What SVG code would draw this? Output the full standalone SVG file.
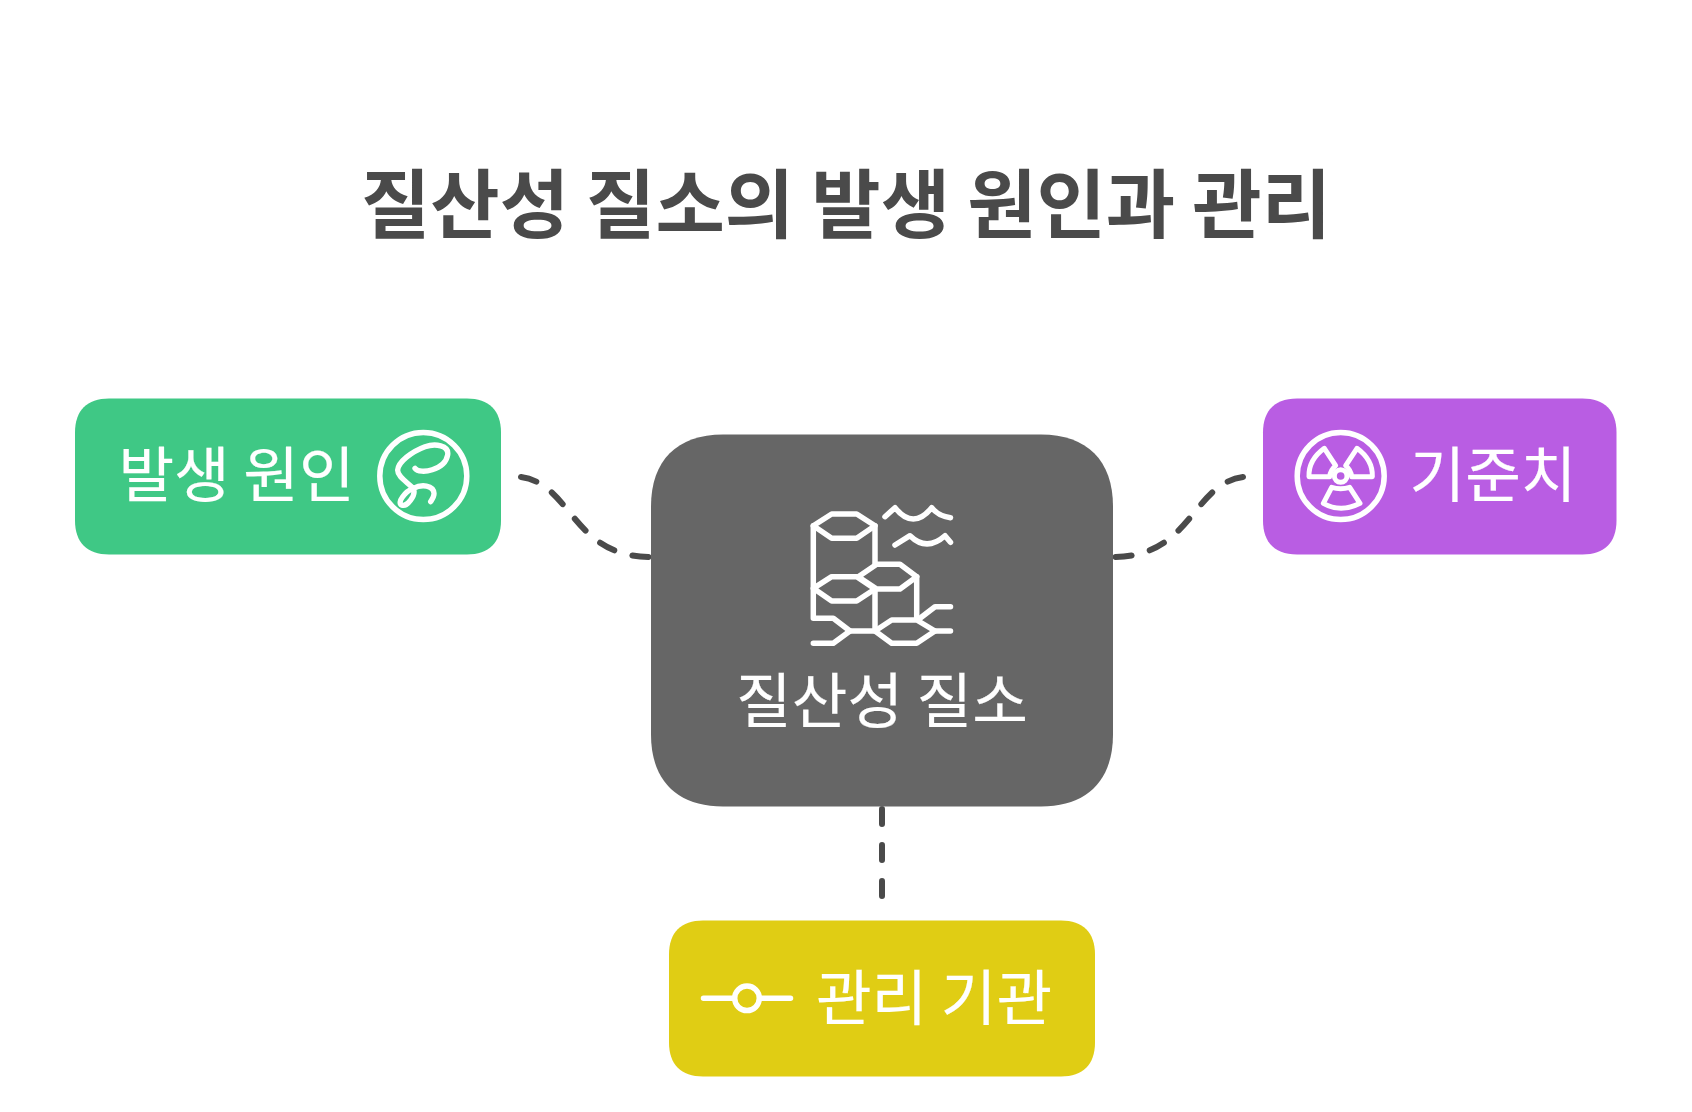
<svg xmlns="http://www.w3.org/2000/svg" width="1692" height="1112" viewBox="0 0 1692 1112">
<style>
text{font-family:"Noto Sans CJK KR","Noto Sans",sans-serif;text-anchor:middle}
.t{font-size:60.500px;fill:#fff;font-weight:400;stroke:#fff;stroke-width:.2px}
.i{fill:none;stroke:#fff;stroke-width:5.500;stroke-linecap:round;stroke-linejoin:round}
.c{fill:none;stroke:#4a4a4a;stroke-width:6;stroke-linecap:round;stroke-dasharray:16 19}
</style>
<rect width="1692" height="1112" fill="#fff"/>
<text id="title" x="846" y="232" fill="#4a4a4a" style="font-size:75.400px;font-weight:700">질산성 질소의 발생 원인과 관리</text>
<g id="connectors">
<path class="c" d="M521 477C572 484 572 557 651 557"/>
<path class="c" d="M1243 477C1192 484 1192 557 1113 557"/>
<path class="c" d="M882 809V900" style="stroke-dasharray:15 21"/>
</g>
<g id="node-center">
<path d="M723 434.500H1041C1087 434.500 1113 460.500 1113 506.500V734.500C1113 780.500 1087 806.500 1041 806.500H723C677 806.500 651 780.500 651 734.500V506.500C651 460.500 677 434.500 723 434.500Z" fill="#666"/>
<g class="i">
<path d="M813.300 525.700L831.700 514H856.700L875 525.700L856.700 538.300H831.700Z"/>
<path d="M813.300 525.700V618.300H833.300L850 631L833.300 643.300H813.300"/>
<path d="M875 525.700V564"/>
<path d="M858.300 576.700L876.700 564.300H900L916.700 576.700L900 589H876.700Z"/>
<path d="M813.300 588.300L831.700 576.700H856.700L875 589L856.700 601H831.700Z"/>
<path d="M875 589V631H850"/>
<path d="M916.700 576.700V618"/>
<path d="M875 631L891.700 620H916.700L935 631L916.700 643.300H891.700Z"/>
<path d="M935 631H950.500M920 618.300L935 606.700H950.500"/>
<path d="M885 516.700L895 507.700Q913.300 530.300 931.700 507.700Q938 516 950.500 517.700"/>
<path d="M895 545L910 535.700Q926.700 552 945 535.700L950.500 542.300"/>
</g>
<text class="t" x="882" y="722.500">질산성 질소</text>
</g>
<g id="node-cause">
<path d="M109 398.500H467C489 398.500 501 410.500 501 432.500V520.500C501 542.500 489 554.500 467 554.500H109C87 554.500 75 542.500 75 520.500V432.500C75 410.500 87 398.500 109 398.500Z" fill="#3fc885"/>
<text class="t" x="236.500" y="496.500">발생 원인</text>
<circle class="i" cx="423.300" cy="476" r="43.500"/>
<path class="i" transform="translate(370 420) scale(.3333)" style="stroke-width:16" d="M135 145C150 165 225 150 233 105C238 75 195 70 165 80C125 95 85 125 83 150C82 170 110 185 130 205C140 225 110 262 95 255C80 248 105 215 130 205C155 192 190 195 192 220C193 230 185 240 182 245"/>
</g>
<g id="node-standard">
<path d="M1297 398.500H1582.500C1604.500 398.500 1616.500 410.500 1616.500 432.500V520.500C1616.500 542.500 1604.500 554.500 1582.500 554.500H1297C1275 554.500 1263 542.500 1263 520.500V432.500C1263 410.500 1275 398.500 1297 398.500Z" fill="#b95de3"/>
<circle class="i" cx="1340.700" cy="476" r="43.500"/>
<g class="i" transform="translate(1285 420) scale(.3333)" style="stroke-width:15">
<circle cx="167" cy="168" r="19"/>
<path d="M118 85L152 137Q136 150 134 170H72Q70 120 118 85Z"/>
<path d="M216 85L182 137Q198 150 200 170H262Q264 120 216 85Z"/>
<path d="M140 202Q167 210 194 202L225 250Q167 280 115 250Z"/>
</g>
<text class="t" x="1493" y="496.500">기준치</text>
</g>
<g id="node-agency">
<path d="M703 920.500H1061C1083 920.500 1095 932.500 1095 954.500V1042.500C1095 1064.500 1083 1076.500 1061 1076.500H703C681 1076.500 669 1064.500 669 1042.500V954.500C669 932.500 681 920.500 703 920.500Z" fill="#e0cd14"/>
<path class="i" d="M703.500 998.300H734M760 998.300H790.500"/>
<circle class="i" cx="747" cy="998.300" r="12.300"/>
<text class="t" x="934" y="1019.500">관리 기관</text>
</g>
</svg>
